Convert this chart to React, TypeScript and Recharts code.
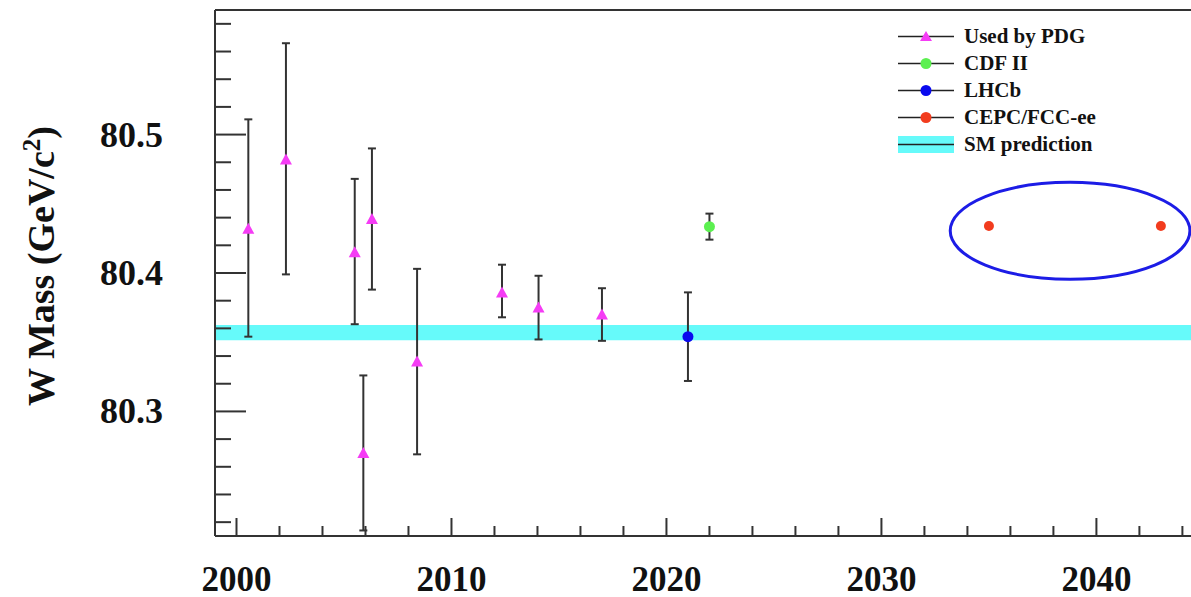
import React from "react";
import { ScatterChart, Scatter, XAxis, YAxis, ErrorBar, ReferenceArea, ReferenceLine } from "recharts";

const pdgYears = [2000.55, 2002.3, 2005.5, 2005.9, 2006.3, 2008.4, 2012.35, 2014.05, 2017.0];
const pdgMass = [80.432, 80.482, 80.415, 80.27, 80.439, 80.336, 80.386, 80.375, 80.37];
const pdgErrLow = [0.078, 0.083, 0.052, 0.056, 0.051, 0.067, 0.018, 0.023, 0.019];
const pdgErrHigh = [0.079, 0.084, 0.053, 0.056, 0.051, 0.067, 0.02, 0.023, 0.019];

const cdfYears = [2022.0];
const cdfMass = [80.4335];
const cdfErr = [0.0094];

const lhcbYears = [2021.0];
const lhcbMass = [80.354];
const lhcbErr = [0.032];

const cepcYears = [2035.0, 2043.0];
const cepcMass = [80.434, 80.434];

const smCentral = 80.357;
const smErr = 0.0055;

// highlighted region around the future e+e- points
const ellipseX = [2033.2, 2044.35];
const ellipseY = [80.3955, 80.4655];

const xDomain = [1999, 2044.4];
const yDomain = [80.21, 80.59];
const xTicks = [2000, 2002, 2004, 2006, 2008, 2010, 2012, 2014, 2016, 2018, 2020, 2022, 2024, 2026, 2028, 2030, 2032, 2034, 2036, 2038, 2040, 2042, 2044];
const yTicks = [80.22, 80.24, 80.26, 80.28, 80.3, 80.32, 80.34, 80.36, 80.38, 80.4, 80.42, 80.44, 80.46, 80.48, 80.5, 80.52, 80.54, 80.56, 80.58];

const legendItems = [
  { name: "Used by PDG", marker: "triangle", color: "#f53cf5" },
  { name: "CDF II", marker: "circle", color: "#5cf050" },
  { name: "LHCb", marker: "circle", color: "#0a0aee" },
  { name: "CEPC/FCC-ee", marker: "circle", color: "#f23c1e" },
  { name: "SM prediction", marker: "band", color: "#66fafa" },
];

const FONT = '"Liberation Serif", "Times New Roman", serif';
const AXIS = "#333";

const pdgData = pdgYears.map((x, i) => ({ x, y: pdgMass[i], err: [pdgErrLow[i], pdgErrHigh[i]] }));
const cdfData = cdfYears.map((x, i) => ({ x, y: cdfMass[i], err: cdfErr[i] }));
const lhcbData = lhcbYears.map((x, i) => ({ x, y: lhcbMass[i], err: lhcbErr[i] }));
const cepcData = cepcYears.map((x, i) => ({ x, y: cepcMass[i] }));

const Triangle = (props: any) => {
  const { cx, cy } = props;
  return <polygon points={`${cx - 6},${cy + 5} ${cx + 6},${cy + 5} ${cx},${cy - 6}`} fill={legendItems[0].color} />;
};

const dot = (color: string, r: number) => (props: any) => (
  <circle cx={props.cx} cy={props.cy} r={r} fill={color} />
);

const XTick = (props: any) => {
  const { x, y, payload } = props;
  const v = payload.value;
  const major = v % 10 === 0;
  return (
    <g>
      <line x1={x} x2={x} y1={y} y2={y - (major ? 18 : 10)} stroke={AXIS} strokeWidth={2} />
      {major && (
        <text x={x} y={y + 55} textAnchor="middle" fontFamily={FONT} fontWeight="bold" fontSize={35} fill="#111">
          {v}
        </text>
      )}
    </g>
  );
};

const YTick = (props: any) => {
  const { x, y, payload } = props;
  const v = payload.value;
  const major = Math.round(v * 100) % 10 === 0;
  return (
    <g>
      <line x1={x} x2={x + (major ? 31 : 16)} y1={y} y2={y} stroke={AXIS} strokeWidth={2} />
      {major && (
        <text x={x - 52} y={y + 12} textAnchor="end" fontFamily={FONT} fontWeight="bold" fontSize={36} fill="#111">
          {v.toFixed(1)}
        </text>
      )}
    </g>
  );
};

const YLabel = () => (
  <text
    transform="translate(54, 266) rotate(-90)"
    textAnchor="middle"
    fontFamily={FONT}
    fontWeight="bold"
    fontSize={38}
    fill="#111"
  >
    W Mass (GeV/c
    <tspan fontSize={25} dy={-14}>2</tspan>
    <tspan dy={14}>)</tspan>
  </text>
);

function LegendBox() {
  return (
    <div style={{ position: "absolute", left: 898, top: 23, fontFamily: FONT, fontWeight: "bold", fontSize: 21, color: "#111" }}>
      {legendItems.map((item) => (
        <div key={item.name} style={{ display: "flex", alignItems: "center", height: 27 }}>
          <svg width={56} height={27} style={{ display: "block" }}>
            {item.marker === "band" && <rect x={0} y={5} width={56} height={17} fill={item.color} />}
            <line x1={0} x2={56} y1={13.5} y2={13.5} stroke="#222" strokeWidth={1.5} />
            {item.marker === "triangle" && <polygon points="22,18 34,18 28,8" fill={item.color} />}
            {item.marker === "circle" && <circle cx={28} cy={13.5} r={5.5} fill={item.color} />}
          </svg>
          <span style={{ marginLeft: 10, whiteSpace: "nowrap" }}>{item.name}</span>
        </div>
      ))}
    </div>
  );
}

export default function App() {
  return (
    <div style={{ position: "absolute", left: 0, top: 0, width: 1191, height: 597, background: "#fff" }}>
      <ScatterChart width={1191} height={597} margin={{ top: 10, right: 0, bottom: 60, left: 0 }}>
        <ReferenceArea
          x1={xDomain[0]}
          x2={xDomain[1]}
          y1={smCentral - smErr}
          y2={smCentral + smErr}
          fill="#66fafa"
          fillOpacity={1}
          stroke="none"
        />
        <ReferenceArea
          x1={ellipseX[0]}
          x2={ellipseX[1]}
          y1={ellipseY[0]}
          y2={ellipseY[1]}
          shape={(p: any) => (
            <ellipse
              cx={p.x + p.width / 2}
              cy={p.y + p.height / 2}
              rx={p.width / 2}
              ry={p.height / 2}
              fill="none"
              stroke="#1c1ce6"
              strokeWidth={3}
            />
          )}
        />
        <XAxis
          type="number"
          dataKey="x"
          height={1}
          domain={xDomain}
          ticks={xTicks}
          allowDataOverflow
          interval={0}
          tickSize={0}
          tickMargin={0}
          tickLine={false}
          axisLine={{ stroke: AXIS, strokeWidth: 2 }}
          tick={<XTick />}
        />
        <YAxis
          type="number"
          dataKey="y"
          width={215}
          domain={yDomain}
          ticks={yTicks}
          allowDataOverflow
          interval={0}
          tickSize={0}
          tickMargin={0}
          tickLine={false}
          axisLine={{ stroke: AXIS, strokeWidth: 2 }}
          tick={<YTick />}
          label={<YLabel />}
        />
        <ReferenceLine y={yDomain[1]} stroke={AXIS} strokeWidth={2} />
        <Scatter name="Used by PDG" data={pdgData} shape={<Triangle />} isAnimationActive={false}>
          <ErrorBar dataKey="err" direction="y" width={4} stroke="#333" strokeWidth={2} />
        </Scatter>
        <Scatter name="CDF II" data={cdfData} shape={dot(legendItems[1].color, 5.5)} isAnimationActive={false}>
          <ErrorBar dataKey="err" direction="y" width={4} stroke="#333" strokeWidth={2} />
        </Scatter>
        <Scatter name="LHCb" data={lhcbData} shape={dot(legendItems[2].color, 5.5)} isAnimationActive={false}>
          <ErrorBar dataKey="err" direction="y" width={4} stroke="#333" strokeWidth={2} />
        </Scatter>
        <Scatter name="CEPC/FCC-ee" data={cepcData} shape={dot(legendItems[3].color, 5)} isAnimationActive={false} />
      </ScatterChart>
      <LegendBox />
    </div>
  );
}
